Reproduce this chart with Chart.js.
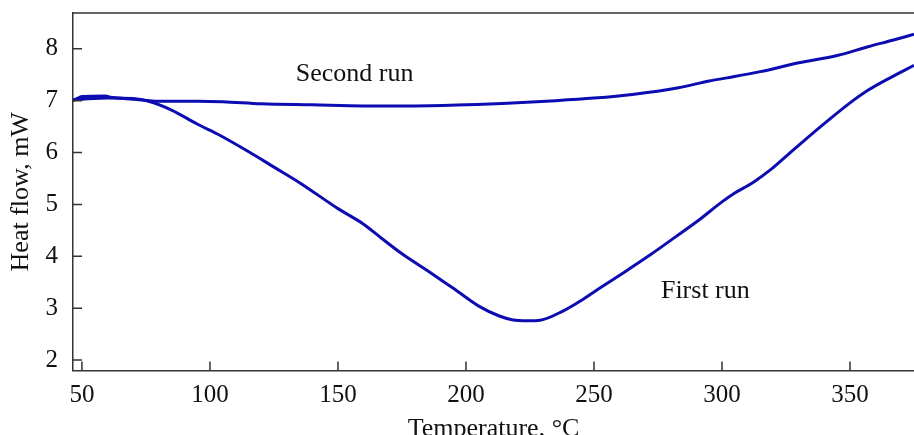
<!DOCTYPE html>
<html>
<head>
<meta charset="utf-8">
<script src="https://cdn.jsdelivr.net/npm/chart.js@4/dist/chart.umd.min.js"></script>
<style>
  html, body { margin: 0; padding: 0; background: #fff; overflow: hidden; }
  #wrap { width: 914px; height: 435px; }
</style>
</head>
<body>
<div id="wrap"><canvas id="dsc"></canvas></div>
<script>
// temperature (°C) / heat flow (mW)
const firstRunT = [46.5, 50, 60, 70, 76, 85, 95, 104, 115, 125, 135, 150, 160, 167, 175, 186, 196, 205, 213, 218, 224, 229, 238, 245, 252, 262, 272, 282, 291, 300, 305, 312, 319, 326, 333, 341, 349, 357, 366, 375];
const firstRunHF = [7.02, 7.03, 7.05, 7.04, 6.99, 6.82, 6.55, 6.33, 6.02, 5.72, 5.42, 4.92, 4.62, 4.35, 4.05, 3.69, 3.35, 3.04, 2.85, 2.78, 2.76, 2.77, 2.95, 3.15, 3.38, 3.7, 4.03, 4.38, 4.7, 5.05, 5.22, 5.42, 5.67, 5.97, 6.27, 6.6, 6.92, 7.2, 7.45, 7.68];

const secondRunT = [46.5, 48, 50, 59, 62, 70, 80, 95, 105, 120, 140, 160, 180, 200, 220, 235, 250, 265, 283, 295, 302, 315, 330, 345, 357, 367, 375];
const secondRunHF = [7.0, 7.04, 7.08, 7.09, 7.06, 7.03, 6.99, 6.99, 6.98, 6.94, 6.92, 6.9, 6.9, 6.92, 6.96, 7.0, 7.05, 7.12, 7.25, 7.38, 7.44, 7.56, 7.73, 7.87, 8.04, 8.17, 8.28];

const xTicks = [50, 100, 150, 200, 250, 300, 350];
const yTicks = [2, 3, 4, 5, 6, 7, 8];

const lineColor = '#0c0cb2';
const axisColor = '#333';
const serif = '"Liberation Serif", "DejaVu Serif", serif';

const toPoints = (xs, ys) => xs.map((x, i) => ({ x: x, y: ys[i] }));

// ticks point inward, plus the top frame line
const frame = {
  id: 'frame',
  afterDraw(chart) {
    const { ctx, chartArea: a, scales: { x, y } } = chart;
    ctx.save();
    ctx.strokeStyle = axisColor;
    ctx.lineWidth = 1.5;
    ctx.beginPath();
    ctx.moveTo(a.left, a.top);
    ctx.lineTo(a.right, a.top);
    xTicks.forEach(v => {
      const px = x.getPixelForValue(v);
      ctx.moveTo(px, a.bottom);
      ctx.lineTo(px, a.bottom - 9);
    });
    yTicks.forEach(v => {
      const py = y.getPixelForValue(v);
      ctx.moveTo(a.left, py);
      ctx.lineTo(a.left + 9, py);
    });
    ctx.stroke();

    ctx.fillStyle = '#111';
    ctx.font = '26px ' + serif;
    ctx.textAlign = 'center';
    ctx.textBaseline = 'middle';
    ctx.fillText('Second run', x.getPixelForValue(156.5), y.getPixelForValue(7.52));
    ctx.fillText('First run', x.getPixelForValue(293.5), y.getPixelForValue(3.33));
    ctx.restore();
  }
};

new Chart(document.getElementById('dsc'), {
  type: 'line',
  data: {
    datasets: [
      {
        label: 'First run',
        data: toPoints(firstRunT, firstRunHF),
        borderColor: lineColor,
        borderWidth: 3,
        pointRadius: 0,
        cubicInterpolationMode: 'monotone'
      },
      {
        label: 'Second run',
        data: toPoints(secondRunT, secondRunHF),
        borderColor: lineColor,
        borderWidth: 3,
        pointRadius: 0,
        cubicInterpolationMode: 'monotone'
      }
    ]
  },
  options: {
    responsive: true,
    maintainAspectRatio: false,
    animation: false,
    layout: { padding: { top: 13, right: 0, left: 0, bottom: 0 } },
    plugins: { legend: { display: false }, tooltip: { enabled: false } },
    scales: {
      x: {
        type: 'linear',
        min: 46.5,
        max: 375,
        afterBuildTicks: s => { s.ticks = xTicks.map(v => ({ value: v })); },
        afterFit: s => { s.height = 64.5; s.paddingLeft = 0; s.paddingRight = 0; },
        grid: { display: false, drawTicks: false },
        border: { display: true, color: axisColor, width: 1.5 },
        ticks: { color: '#111', padding: 10, maxRotation: 0, font: { family: serif, size: 25 } },
        title: {
          display: true,
          text: 'Temperature, °C',
          color: '#111',
          padding: { top: 0, bottom: -7 },
          font: { family: serif, size: 26, lineHeight: 1 }
        }
      },
      y: {
        min: 1.8,
        max: 8.69,
        afterBuildTicks: s => { s.ticks = yTicks.map(v => ({ value: v })); },
        afterFit: s => { s.width = 73; s.paddingTop = 0; s.paddingBottom = 0; },
        grid: { display: false, drawTicks: false },
        border: { display: true, color: axisColor, width: 1.5 },
        ticks: { color: '#111', padding: 15, font: { family: serif, size: 25 } },
        title: {
          display: true,
          text: 'Heat flow, mW',
          color: '#111',
          padding: { top: 8, bottom: 0 },
          font: { family: serif, size: 26, lineHeight: 1 }
        }
      }
    }
  },
  plugins: [frame]
});
</script>
</body>
</html>
